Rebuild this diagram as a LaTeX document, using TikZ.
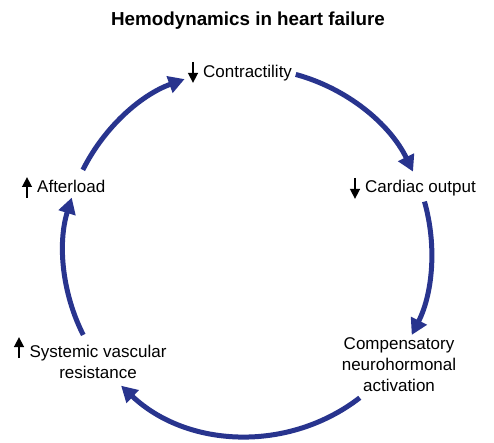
\documentclass[tikz,border=0pt]{standalone}
\usepackage{fontspec}
\setmainfont{Liberation Sans}
\usetikzlibrary{arrows.meta}
\definecolor{cycblue}{RGB}{40,52,142}
\tikzset{
  cyc/.style={draw=cycblue, line width=5pt, -{Triangle[width=17pt,length=16pt]}},
  updown/.style={draw=black, line width=2.6pt, -{Triangle[width=9.5pt,length=10pt]}},
  lbl/.style={inner sep=0pt, font=\fontsize{17}{21}\selectfont},
  ttl/.style={inner sep=0pt, font=\fontsize{18.8}{22}\selectfont\bfseries}
}
\begin{document}
\begin{tikzpicture}[x=1pt,y=1pt]
\useasboundingbox[fill=white] (0,0) rectangle (494,442);
\node[ttl, anchor=base] (title) at (248,416) {Hemodynamics in heart failure};

\node[lbl, anchor=base west] (contr) at (203,364) {Contractility};
\node[lbl, anchor=base west] (cardiac) at (365,249) {Cardiac output};
\node[lbl, anchor=base west] (after) at (37,250) {Afterload};
\node[lbl, anchor=north, align=center] (svr) at (98,97.4) {Systemic vascular\\resistance};
\node[lbl, anchor=north, align=center] (comp) at (399,104.4) {Compensatory\\neurohormonal\\activation};

% small up/down indicators
\draw[updown] (193,380) -- (193,359);
\draw[updown] (355,264) -- (355,243);
\draw[updown] (27,244) -- (27,265);
\draw[updown] (19,84) -- (19,105);

% cycle
\coordinate (O) at (247.5,190);
\coordinate (a1) at ([shift={(74.8:184pt)}]O);
\coordinate (a2) at ([shift={(15.9:184pt)}]O);
\coordinate (a3) at ([shift={(-52.4:184pt)}]O);
\coordinate (a4) at ([shift={(206.8:184pt)}]O);
\coordinate (a5) at ([shift={(153.5:184pt)}]O);
\draw[cyc] (a1) arc[start angle=74.8, end angle=25.9, radius=184pt];
\draw[cyc] (a2) arc[start angle=15.9, end angle=-26.8, radius=184pt];
\draw[cyc] (a3) arc[start angle=-52.4, end angle=-133.4, radius=184pt];
\draw[cyc] (a4) arc[start angle=206.8, end angle=162.8, radius=184pt];
\draw[cyc] (a5) arc[start angle=153.5, end angle=110, radius=184pt];
\end{tikzpicture}
\end{document}
